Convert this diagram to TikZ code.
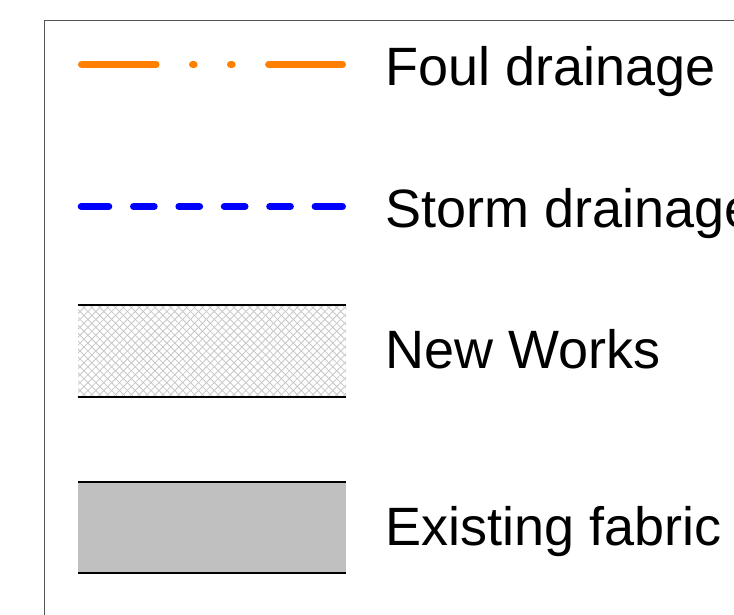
\documentclass[tikz,border=0pt]{standalone}
\usepackage{fontspec}
\setmainfont{Liberation Sans}
\definecolor{foul}{RGB}{255,128,0}
\definecolor{storm}{RGB}{0,0,255}
\definecolor{fabric}{RGB}{192,192,192}
\definecolor{hatchgray}{RGB}{200,200,200}
\definecolor{framegray}{RGB}{85,85,85}
\tikzset{
  legtext/.style={anchor=base west, inner sep=0pt, font=\fontsize{54}{60}\selectfont},
  legline/.style={line width=7pt, line cap=round},
  boxedge/.style={line width=2pt, black},
}
\begin{document}
\begin{tikzpicture}[x=1pt,y=-1pt]
\useasboundingbox (0,0) rectangle (734,615);
% frame
\draw[framegray, line width=1.3pt] (44.5,640) -- (44.5,20.5) -- (760,20.5);
% foul drainage
\coordinate (f1) at (81.5,64.5);
\coordinate (f2) at (342.5,64.5);
\draw[legline, foul, dash pattern=on 74.6pt off 36.4pt on 1.6pt off 36.4pt on 1.6pt off 36.5pt on 80pt] (f1) -- (f2);
\node[legtext] (tfoul) at (385,86) {Foul drainage};
% storm drainage
\coordinate (s1) at (81.2,206.5);
\coordinate (s2) at (342.5,206.5);
\draw[legline, storm, dash pattern=on 27.6pt off 24.7pt on 20.7pt off 24.7pt on 20.7pt off 24.7pt on 20.7pt off 24.7pt on 20.7pt off 24.7pt on 60pt] (s1) -- (s2);
\node[legtext] (tstorm) at (385,227.5) {Storm drainage};
% new works
\begin{scope}
  \clip (78,305.3) rectangle (346,396.7);
  \foreach \k in {-100,-92.1,...,360} {
    \draw[hatchgray, line width=0.8pt] (\k,305.3) -- ++(91.4,91.4);
    \draw[hatchgray, line width=0.8pt] (\k,396.7) -- ++(91.4,-91.4);
  }
\end{scope}
\draw[boxedge] (77.5,305.3) -- (346,305.3);
\draw[boxedge] (77.5,396.7) -- (346,396.7);
\node[legtext] (tnew) at (385,368.5) {New Works};
% existing fabric
\fill[fabric] (78,482) rectangle (346,573);
\draw[boxedge] (78,482) -- (346,482);
\draw[boxedge] (78,573) -- (346,573);
\node[legtext] (texist) at (385,545) {Existing fabric};
\end{tikzpicture}
\end{document}
